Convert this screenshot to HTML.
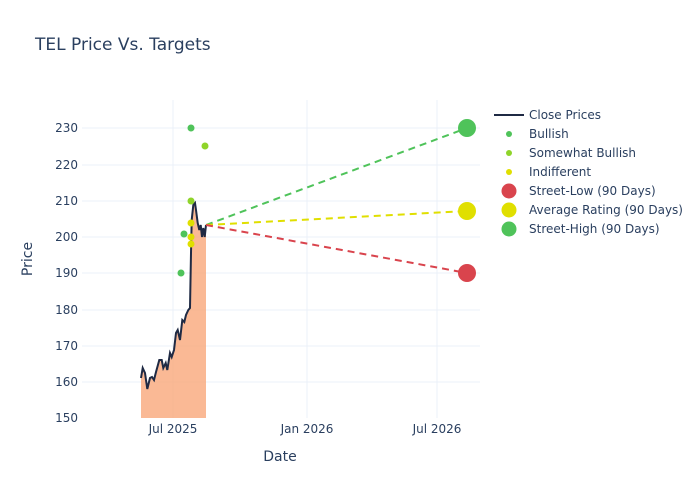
<!DOCTYPE html>
<html><head><meta charset="utf-8"><style>body{margin:0;background:#fff}svg{display:block;font-family:"DejaVu Sans","Liberation Sans",sans-serif}</style></head><body>
<svg width="700" height="500" xmlns="http://www.w3.org/2000/svg">
<rect width="700" height="500" fill="#fff"/>
<text x="35" y="50" font-size="17" fill="#2a3f5f">TEL Price Vs. Targets</text>
<g stroke="#ebf0f8" stroke-width="1">
<line x1="173" y1="100" x2="173" y2="418"/><line x1="307" y1="100" x2="307" y2="418"/><line x1="437" y1="100" x2="437" y2="418"/>
<line x1="82" y1="382" x2="480" y2="382"/><line x1="82" y1="346" x2="480" y2="346"/><line x1="82" y1="310" x2="480" y2="310"/><line x1="82" y1="273" x2="480" y2="273"/><line x1="82" y1="237" x2="480" y2="237"/><line x1="82" y1="201" x2="480" y2="201"/><line x1="82" y1="165" x2="480" y2="165"/><line x1="82" y1="128" x2="480" y2="128"/>
</g>
<g font-size="12" fill="#2a3f5f" text-anchor="end">
<text x="78" y="422">150</text><text x="78" y="386">160</text><text x="78" y="350">170</text><text x="78" y="314">180</text><text x="78" y="277">190</text><text x="78" y="241">200</text><text x="78" y="205">210</text><text x="78" y="169">220</text><text x="78" y="132">230</text>
</g>
<g font-size="12" fill="#2a3f5f" text-anchor="middle">
<text x="173" y="433">Jul 2025</text><text x="307" y="433">Jan 2026</text><text x="437" y="433">Jul 2026</text>
</g>
<text x="280" y="461" font-size="14" fill="#2a3f5f" text-anchor="middle">Date</text>
<text x="32" y="259" font-size="14" fill="#2a3f5f" text-anchor="middle" transform="rotate(-90 32 259)">Price</text>
<path d="M141,378 L142.7,368 145,373 147.3,389 150,378 152,377 154,380 156,372 159.3,360 161.7,360 163.3,368 165.7,363 167.3,370 170,353 171.7,357 174,350 176,333 177.7,330 180,340 182.3,320 184.3,322 186,315 188.3,310 190,308 191,253 191.7,220 193.3,205 195,203 196,210 197.7,223 199.3,230 200.7,225 202,237 203.3,228 204.7,237 206,225 L206,418 L141,418 Z" fill="#f9a87a" fill-opacity="0.8"/>
<path d="M141,378 L142.7,368 145,373 147.3,389 150,378 152,377 154,380 156,372 159.3,360 161.7,360 163.3,368 165.7,363 167.3,370 170,353 171.7,357 174,350 176,333 177.7,330 180,340 182.3,320 184.3,322 186,315 188.3,310 190,308 191,253 191.7,220 193.3,205 195,203 196,210 197.7,223 199.3,230 200.7,225 202,237 203.3,228 204.7,237 206,225" fill="none" stroke="#1f2a44" stroke-width="2"/>
<g stroke-width="2" stroke-dasharray="7,5" fill="none">
<line x1="206" y1="225" x2="467" y2="128" stroke="#4fc35a"/>
<line x1="206" y1="225" x2="467" y2="211" stroke="#e0df00"/>
<line x1="206" y1="225" x2="467" y2="273" stroke="#d9444d"/>
</g>
<g>
<circle cx="191" cy="128" r="3.5" fill="#4fc35a"/><circle cx="181" cy="273" r="3.5" fill="#4fc35a"/><circle cx="184" cy="234" r="3.5" fill="#4fc35a"/>
<circle cx="205" cy="146" r="3.5" fill="#8fd42a"/><circle cx="191" cy="201" r="3.5" fill="#8fd42a"/>
<circle cx="191" cy="223" r="3.5" fill="#e0df00"/><circle cx="191" cy="237" r="3.5" fill="#e0df00"/><circle cx="191" cy="244" r="3.5" fill="#e0df00"/>
<circle cx="467" cy="128" r="9" fill="#4fc35a"/><circle cx="467" cy="211" r="9" fill="#e0df00"/><circle cx="467" cy="273" r="9" fill="#d9444d"/>
</g>
<g font-size="12" fill="#2a3f5f">
<line x1="494" y1="115" x2="524" y2="115" stroke="#1f2a44" stroke-width="2"/><text x="529" y="119">Close Prices</text>
<circle cx="509" cy="134" r="3" fill="#4fc35a"/><text x="529" y="138">Bullish</text>
<circle cx="509" cy="153" r="3" fill="#8fd42a"/><text x="529" y="157">Somewhat Bullish</text>
<circle cx="509" cy="172" r="3" fill="#e0df00"/><text x="529" y="176">Indifferent</text>
<circle cx="509" cy="191" r="7.5" fill="#d9444d"/><text x="529" y="195">Street-Low (90 Days)</text>
<circle cx="509" cy="210" r="7.5" fill="#e0df00"/><text x="529" y="214">Average Rating (90 Days)</text>
<circle cx="509" cy="229" r="7.5" fill="#4fc35a"/><text x="529" y="233">Street-High (90 Days)</text>
</g>
</svg>
</body></html>
